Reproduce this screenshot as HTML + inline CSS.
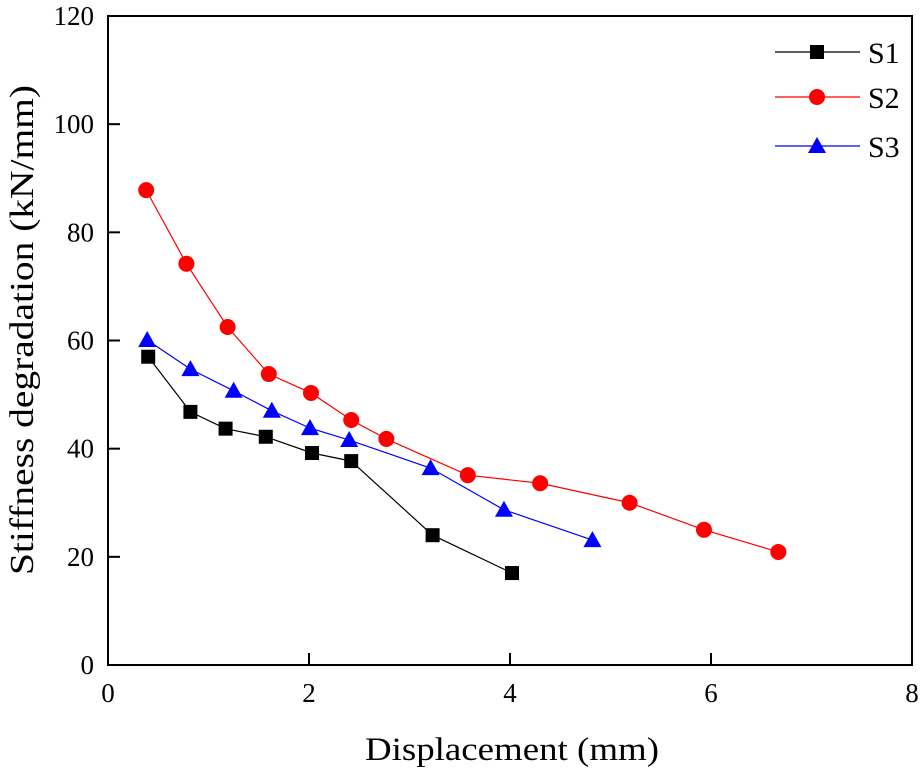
<!DOCTYPE html>
<html><head><meta charset="utf-8"><style>
body{margin:0;background:#fff;}
svg{display:block;font-family:"Liberation Serif",serif;}
</style></head><body>
<svg id="chart" width="921" height="774"></svg>
<script>
const xTicks=[0,2,4,6,8];
const yTicks=[0,20,40,60,80,100,120];
const s1x=[0.4,0.82,1.17,1.57,2.03,2.42,3.23,4.02];
const s1y=[57,46.8,43.7,42.2,39.2,37.7,24,17];
const s2x=[0.38,0.78,1.19,1.6,2.02,2.42,2.77,3.58,4.3,5.19,5.93,6.67];
const s2y=[87.8,74.2,62.5,53.8,50.3,45.3,41.8,35.1,33.6,30,25,20.9];
const s3x=[0.39,0.82,1.25,1.63,2.01,2.4,3.21,3.94,4.82];
const s3y=[60.1,54.7,50.7,47,43.8,41.6,36.4,28.7,23.1];
const seriesNames=["S1","S2","S3"];

const NS="http://www.w3.org/2000/svg";
const svg=document.getElementById('chart');
const L=108,R=912,T=16,B=665;
const xs=v=>L+(v-0)/(8-0)*(R-L);
const ys=v=>B-(v-0)/(120-0)*(B-T);
function mk(tag,attrs,parent){const e=document.createElementNS(NS,tag);for(const k in attrs)e.setAttribute(k,attrs[k]);(parent||svg).appendChild(e);return e;}

const frame=mk('rect',{x:L,y:T,width:R-L,height:B-T,fill:'none',stroke:'#000','stroke-width':2});



xTicks.forEach(t=>{
  const ln=mk('line',{x1:xs(t),x2:xs(t),y1:B,y2:B-12,stroke:'#000','stroke-width':2});
  
  
  const tx=mk('text',{x:xs(t),y:B+37,'text-anchor':'middle','font-size':27});
  tx.textContent=t;
  
  
});
yTicks.forEach(t=>{
  const ln=mk('line',{x1:L,x2:L+12,y1:ys(t),y2:ys(t),stroke:'#000','stroke-width':2});
  
  
  const tx=mk('text',{x:L-14,y:ys(t)+9,'text-anchor':'end','font-size':27});
  tx.textContent=t;
  
  
});
const xt=mk('text',{x:(L+R)/2+2,y:760,'text-anchor':'middle','font-size':33,textLength:294,lengthAdjust:'spacingAndGlyphs'});
xt.textContent='Displacement (mm)';


const yt=mk('text',{x:0,y:0,'text-anchor':'middle','font-size':34,textLength:490,lengthAdjust:'spacingAndGlyphs',transform:`translate(33,330) rotate(-90)`});
yt.textContent='Stiffness degradation (kN/mm)';



function marker(kind,x,y,color,g){
  let e;
  if(kind==='sq') e=mk('rect',{x:x-7,y:y-7,width:14,height:14,fill:color},g);
  else if(kind==='ci') e=mk('circle',{cx:x,cy:y,r:8,fill:color},g);
  else e=mk('polygon',{points:`${x},${y-9} ${x+9},${y+7} ${x-9},${y+7}`,fill:color},g);
  
  
}
const defs=[[s1x,s1y,'#000','sq'],[s2x,s2y,'#ff0000','ci'],[s3x,s3y,'#0000ff','tr']];
defs.forEach((d,i)=>{
  const g=mk('g',{});
  
  
  const pts=d[0].map((x,j)=>xs(x)+','+ys(d[1][j])).join(' ');
  const pl=mk('polyline',{points:pts,fill:'none',stroke:d[2],'stroke-width':1.2},g);
  
  
  d[0].forEach((x,j)=>marker(d[3],xs(x),ys(d[1][j]),d[2],g));
  const ly=[52,97,146][i];
  const lg=mk('g',{});
  
  
  mk('line',{x1:775,x2:860,y1:ly,y2:ly,stroke:d[2],'stroke-width':1.2},lg);
  marker(d[3],817,ly,d[2],lg);
  const t=mk('text',{x:868,y:ly+11,'font-size':30},lg);
  t.textContent=seriesNames[i];
});
</script>
</body></html>
